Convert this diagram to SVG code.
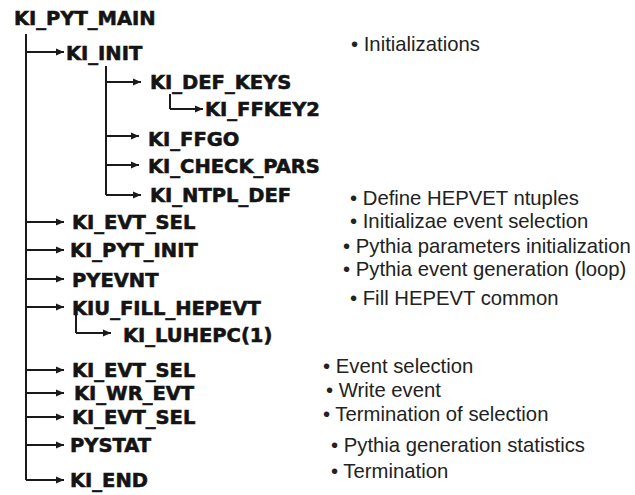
<svg xmlns="http://www.w3.org/2000/svg" width="635" height="495" viewBox="0 0 635 495">
<defs>
<marker id="ah" markerUnits="userSpaceOnUse" markerWidth="9" markerHeight="8" refX="8" refY="4" orient="auto">
<path d="M0,0.5 L8,4 L0,7.5 Z" fill="#1a1a1a"/>
</marker>
</defs>
<style>
.n{font-family:"DejaVu Sans","Liberation Sans",sans-serif;font-weight:bold;font-size:19.5px;fill:#141414;stroke:#141414;stroke-width:0.6px}
.d{font-family:"Liberation Sans",Arial,sans-serif;font-size:20.3px;fill:#222}
.c{fill:none;stroke:#1a1a1a;stroke-width:2}
.a{fill:none;stroke:#1a1a1a;stroke-width:2;marker-end:url(#ah)}
</style>
<rect width="635" height="495" fill="#fff"/>
<g id="connectors">
<path class="c" d="M26,34 V480"/>
<path class="a" d="M26,52 H64"/>
<path class="c" d="M106,66 V195"/>
<path class="a" d="M106,82 H141"/>
<path class="c" d="M170,94 V109"/>
<path class="a" d="M170,109 H203"/>
<path class="a" d="M106,136 H139"/>
<path class="a" d="M106,165 H139"/>
<path class="a" d="M106,195 H141"/>
<path class="a" d="M26,222 H64"/>
<path class="a" d="M26,250 H64"/>
<path class="a" d="M26,279 H64"/>
<path class="a" d="M26,307 H64"/>
<path class="c" d="M76,305 V333"/>
<path class="a" d="M76,333 H111"/>
<path class="a" d="M26,370 H64"/>
<path class="a" d="M26,393 H64"/>
<path class="a" d="M26,417 H64"/>
<path class="a" d="M26,445 H64"/>
<path class="a" d="M26,480 H64"/>
</g>
<g id="ki_pyt_main"><text class="n" x="14" y="25">KI_PYT_MAIN</text></g>
<g id="ki_init"><text class="n" x="66" y="60">KI_INIT</text></g>
<g id="ki_def_keys"><text class="n" x="150" y="89">KI_DEF_KEYS</text></g>
<g id="ki_ffkey2"><text class="n" x="205" y="116">KI_FFKEY2</text></g>
<g id="ki_ffgo"><text class="n" x="148" y="146">KI_FFGO</text></g>
<g id="ki_check_pars"><text class="n" x="148" y="173">KI_CHECK_PARS</text></g>
<g id="ki_ntpl_def"><text class="n" x="150" y="202">KI_NTPL_DEF</text></g>
<g id="ki_evt_sel_1"><text class="n" x="72" y="229">KI_EVT_SEL</text></g>
<g id="ki_pyt_init"><text class="n" x="70" y="257">KI_PYT_INIT</text></g>
<g id="pyevnt"><text class="n" x="72" y="287">PYEVNT</text></g>
<g id="kiu_fill_hepevt"><text class="n" x="72" y="315">KIU_FILL_HEPEVT</text></g>
<g id="ki_luhepc"><text class="n" x="123" y="342">KI_LUHEPC(1)</text></g>
<g id="ki_evt_sel_2"><text class="n" x="72" y="377">KI_EVT_SEL</text></g>
<g id="ki_wr_evt"><text class="n" x="74" y="400">KI_WR_EVT</text></g>
<g id="ki_evt_sel_3"><text class="n" x="72" y="424">KI_EVT_SEL</text></g>
<g id="pystat"><text class="n" x="70" y="452">PYSTAT</text></g>
<g id="ki_end"><text class="n" x="70" y="487">KI_END</text></g>
<g id="notes">
<text class="d" x="351" y="51">• Initializations</text>
<text class="d" x="350" y="205" font-size="19.8px">• Define HEPVET ntuples</text>
<text class="d" x="350" y="228" font-size="19.8px">• Initializae event selection</text>
<text class="d" x="343" y="253">• Pythia parameters initialization</text>
<text class="d" x="343" y="276">• Pythia event generation (loop)</text>
<text class="d" x="350" y="305">• Fill HEPEVT common</text>
<text class="d" x="323" y="373">• Event selection</text>
<text class="d" x="326" y="397">• Write event</text>
<text class="d" x="323" y="421">• Termination of selection</text>
<text class="d" x="331" y="452">• Pythia generation statistics</text>
<text class="d" x="331" y="478">• Termination</text>
</g>
</svg>
